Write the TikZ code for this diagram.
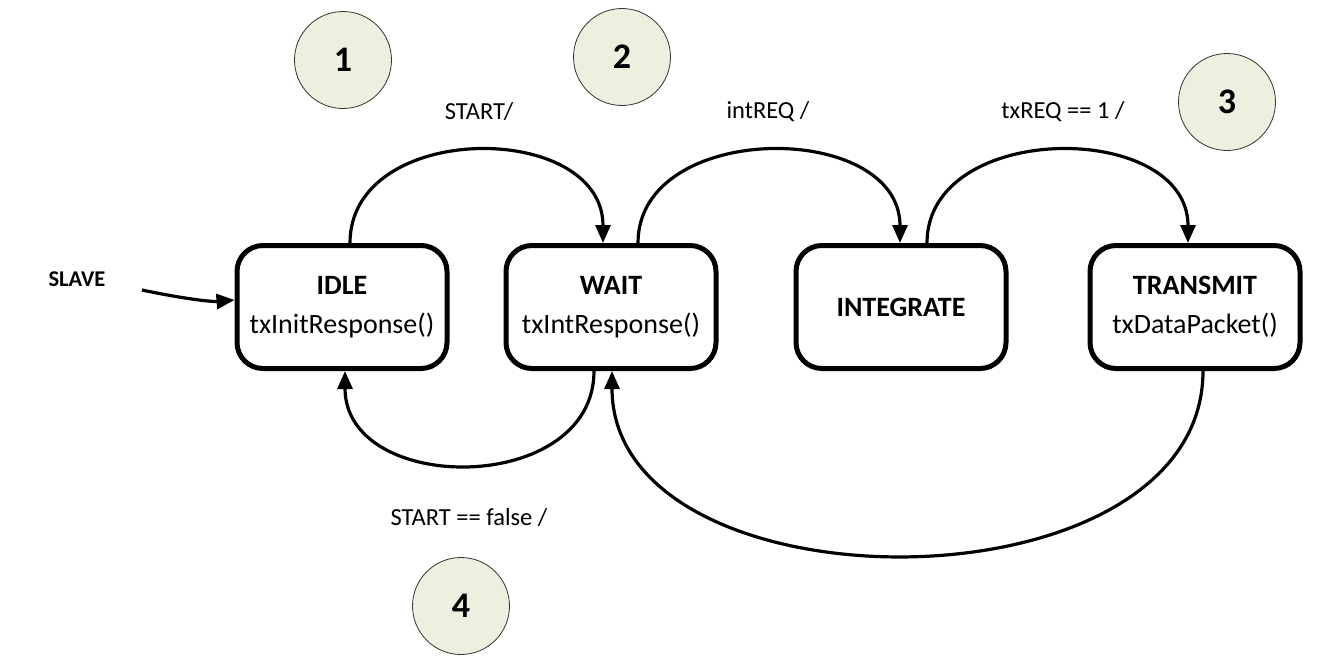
\documentclass[tikz,border=0pt]{standalone}
\usepackage{fontspec}
\setmainfont{Carlito}
\usetikzlibrary{arrows.meta}
\definecolor{numfill}{HTML}{EBF1DE}
\begin{document}
\begin{tikzpicture}[x=1pt,y=-1pt,
  state/.style={draw=black,line width=5pt,rounded corners=26pt,minimum width=210pt,minimum height=123pt,inner sep=0pt,align=center,font=\fontsize{28}{36}\selectfont},
  num/.style={circle,draw=black!80,line width=0.8pt,fill=numfill,minimum size=97pt,inner sep=0pt,font=\fontsize{36}{40}\selectfont\bfseries},
  lbl/.style={font=\fontsize{24.5}{28}\selectfont,inner sep=0pt},
  conn/.style={line width=3.2pt,-{Triangle[length=18pt,width=15pt]}}]
\useasboundingbox (0,0) rectangle (1342,672);
\node[state] (idle) at (342,307) {\textbf{IDLE}\\[3pt]txInitResponse()};
\node[state] (wait) at (611,307) {\textbf{WAIT}\\[3pt]txIntResponse()};
\node[state] (integ) at (901,307) {\textbf{INTEGRATE}};
\node[state] (trans) at (1195,307) {\textbf{TRANSMIT}\\[3pt]txDataPacket()};
\node[num] (n1) at (343,60) {1};
\node[num] (n2) at (622,57) {2};
\node[num] (n3) at (1227,102) {3};
\node[num] (n4) at (461,606) {4};
\node[lbl] (l1) at (479,112) {START/};
\node[lbl] (l2) at (768,112) {intREQ /};
\node[lbl] (l3) at (1063,112) {txREQ == 1 /};
\node[lbl] (l4) at (469,518) {START == false /};
\node[lbl,font=\fontsize{22.5}{26}\selectfont\bfseries] (slave) at (77,279) {SLAVE};
\coordinate (s0) at (142,290);
\draw[conn] (s0) .. controls (180,298) and (210,302) .. (idle.west |- 0,300);
\draw[conn] (idle.north -| 350,0) .. controls (350,120) and (603,120) .. (wait.north -| 603,0);
\draw[conn] (wait.north -| 638,0) .. controls (638,120) and (900,120) .. (integ.north -| 900,0);
\draw[conn] (integ.north -| 927,0) .. controls (927,120) and (1188,120) .. (trans.north -| 1188,0);
\draw[conn] (wait.south -| 594,0) .. controls (594,496) and (345,496) .. (idle.south -| 345,0);
\draw[conn] (trans.south -| 1203,0) .. controls (1203,616) and (612,616) .. (wait.south -| 612,0);
\end{tikzpicture}
\end{document}
